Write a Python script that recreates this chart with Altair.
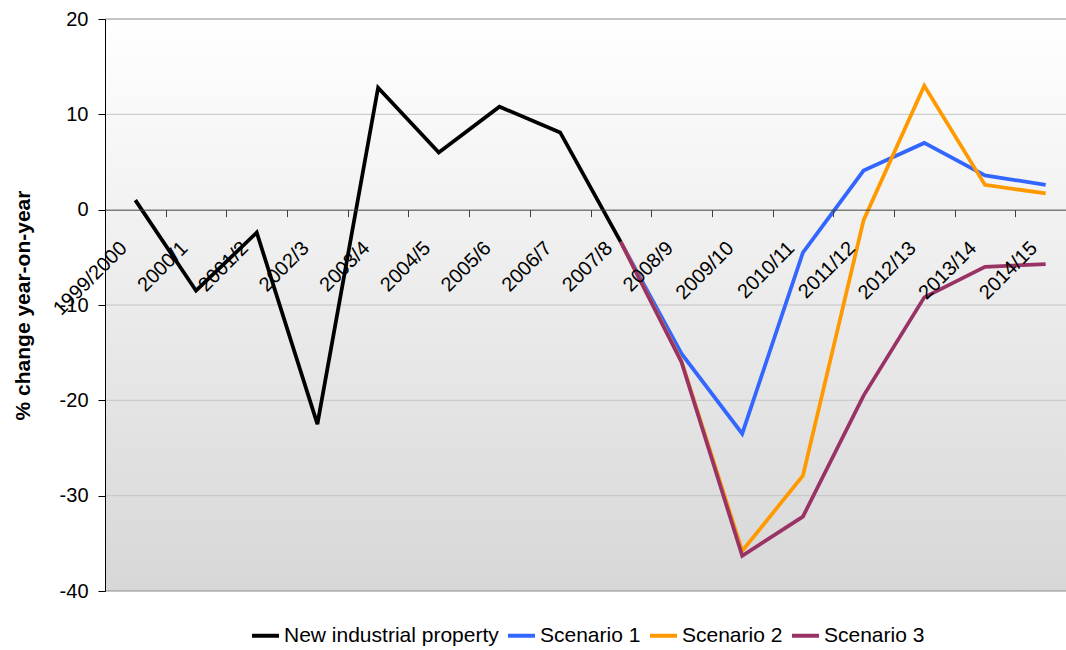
import altair as alt
import pandas as pd

# Financial years on the category axis
years = [
    "1999/2000", "2000/1", "2001/2", "2002/3", "2003/4", "2004/5", "2005/6",
    "2006/7", "2007/8", "2008/9", "2009/10", "2010/11", "2011/12", "2012/13",
    "2013/14", "2014/15",
]

# Outturn: % change year-on-year, 1999/2000 to 2007/8
new_industrial_property = [1.0, -8.5, -2.4, -22.5, 12.8, 6.0, 10.8, 8.1, -3.4]

# Projections from 2007/8 onwards
scenario_years = years[8:]
scenario_1 = [-3.4, -15.1, -23.5, -4.5, 4.1, 7.0, 3.6, 2.6]
scenario_2 = [-3.4, -15.9, -35.8, -27.9, -1.1, 13.0, 2.6, 1.7]
scenario_3 = [-3.4, -16.0, -36.3, -32.2, -19.5, -9.2, -6.0, -5.7]

series_names = ["New industrial property", "Scenario 1", "Scenario 2", "Scenario 3"]
series_colors = ["#000000", "#3366ff", "#ff9900", "#993366"]

y_ticks = [-40, -30, -20, -10, 0, 10, 20]
grid_values = [-30, -20, -10, 10]
border_values = [-40, 20]

rows = []
for yr, v in zip(years, new_industrial_property):
    rows.append({"year": yr, "series": series_names[0], "value": v})
for name, vals in zip(series_names[1:], [scenario_1, scenario_2, scenario_3]):
    for yr, v in zip(scenario_years, vals):
        rows.append({"year": yr, "series": name, "value": v})
lines_df = pd.DataFrame(rows)

FONT = "Liberation Sans, Arial, sans-serif"
PLOT_W = 961      # visible part of the plot area
BAND_W = 971      # full category range; the last band runs past the right edge
PLOT_H = 572
Y_MIN, Y_MAX = -40, 20
zero_offset = -PLOT_H * (0 - Y_MIN) / (Y_MAX - Y_MIN)

y_scale = alt.Scale(domain=[Y_MIN, Y_MAX], nice=False, zero=False)
x_scale = alt.Scale(type="band", domain=years, range=[0, BAND_W],
                    paddingInner=0, paddingOuter=0)

y_axis = alt.Axis(
    title="% change year-on-year", values=y_ticks, grid=False,
    labelExpr="'' + datum.value",
    tickSize=7, tickColor="#000000", domainColor="#000000",
    labelFont=FONT, labelFontSize=20, labelColor="#000000", labelPadding=10,
    titleFont=FONT, titleFontSize=21, titleFontWeight="bold", titleColor="#000000",
    titleAngle=270, titleX=-82, titleY=PLOT_H / 2, titleAlign="center",
    titleBaseline="middle", zindex=1,
)

x_axis = alt.Axis(
    title=None, orient="bottom", offset=zero_offset, grid=False,
    tickBand="extent", tickSize=7, tickColor="#404040", domainColor="#404040",
    labelAngle=315, labelAlign="right", labelBaseline="middle",
    labelOffset=-12, labelPadding=28, labelOverlap=False,
    labelFont=FONT, labelFontSize=20, labelColor="#000000", zindex=1,
)

# Plot-area background: white fading to light grey
background = alt.Chart(pd.DataFrame({"top": [Y_MAX], "bottom": [Y_MIN]})).mark_rect(
    fill=alt.Gradient(
        gradient="linear",
        stops=[alt.GradientStop(color="#ffffff", offset=0),
               alt.GradientStop(color="#d7d7d7", offset=1)],
        x1=0, x2=0, y1=0, y2=1,
    )
).encode(
    x=alt.value(0), x2=alt.value(BAND_W),
    y=alt.Y("top:Q", scale=y_scale, axis=y_axis),
    y2="bottom:Q",
)

grid = alt.Chart(pd.DataFrame({"v": grid_values})).mark_rule(
    color="#c4c4c4", strokeWidth=1
).encode(
    y=alt.Y("v:Q", scale=y_scale, axis=y_axis),
    x=alt.value(0), x2=alt.value(BAND_W),
)

borders = alt.Chart(pd.DataFrame({"v": border_values})).mark_rule(
    color="#8c8c8c", strokeWidth=1
).encode(
    y=alt.Y("v:Q", scale=y_scale, axis=y_axis),
    x=alt.value(0), x2=alt.value(BAND_W),
)

lines = alt.Chart(lines_df).mark_line(strokeWidth=3.75).encode(
    x=alt.X("year:N", scale=x_scale, sort=years, bandPosition=0.5, axis=x_axis),
    y=alt.Y("value:Q", scale=y_scale, axis=y_axis),
    color=alt.Color(
        "series:N",
        scale=alt.Scale(domain=series_names, range=series_colors),
        legend=alt.Legend(
            orient="none", legendX=145, legendY=601,
            direction="horizontal", title=None,
            symbolType="stroke", symbolStrokeWidth=4, symbolSize=729,
            labelFont=FONT, labelFontSize=21, labelColor="#000000", labelLimit=0,
            labelOffset=3, columnPadding=1, padding=0,
        ),
    ),
)

chart = alt.layer(background, grid, borders, lines).properties(
    width=PLOT_W,
    height=PLOT_H,
    autosize=alt.AutoSizeParams(type="none"),
    padding={"left": 105, "top": 19, "right": 0, "bottom": 59},
).configure_view(strokeWidth=0)

chart.save("out.html", embed_options={"renderer": "svg", "actions": False})
